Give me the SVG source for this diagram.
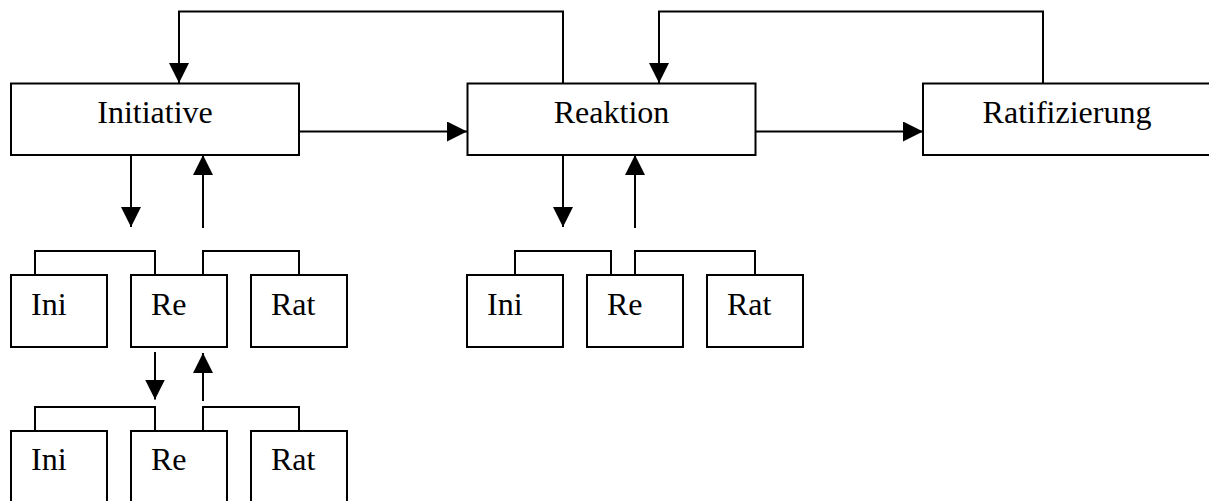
<svg xmlns="http://www.w3.org/2000/svg" width="1209" height="501" viewBox="0 0 1209 501">
<style>
.box{fill:#fff;stroke:#000;stroke-width:2}
.big{font-family:"Liberation Serif","Times New Roman",serif;font-size:32px;fill:#000;text-anchor:middle}
.small{font-family:"Liberation Serif","Times New Roman",serif;font-size:32px;fill:#000}
.ln{fill:none;stroke:#000;stroke-width:2}
.ar{fill:none;stroke:#000;stroke-width:2;marker-end:url(#ah)}
</style>
<defs>
<marker id="ah" markerUnits="userSpaceOnUse" markerWidth="20" markerHeight="20" refX="20" refY="10" orient="auto" viewBox="0 0 20 20">
<path d="M0,0 L20,10 L0,20 Z" fill="#000"/>
</marker>
</defs>
<rect width="1209" height="501" fill="#fff"/>
<g id="connectors">
<path class="ar" d="M563,83 V11.5 H179 V83"/>
<path class="ar" d="M1043,83 V11.5 H659 V83"/>
<path class="ar" d="M299,131.5 H467"/>
<path class="ar" d="M756,131.5 H923"/>
<path class="ar" d="M131,155 V227"/>
<path class="ar" d="M203,228 V155"/>
<path class="ar" d="M563,155 V227"/>
<path class="ar" d="M635,228 V155"/>
<path class="ln" d="M35,275 V251 H155 V275"/>
<path class="ln" d="M203,275 V251 H299 V275"/>
<path class="ar" d="M155,352 V399.5"/>
<path class="ar" d="M203,401 V353"/>
<path class="ln" d="M35,431 V407 H155 V431"/>
<path class="ln" d="M203,431 V407 H299 V431"/>
<path class="ln" d="M515,275 V251 H611 V275"/>
<path class="ln" d="M635,275 V251 H755 V275"/>
</g>
<g id="initiative"><rect class="box" x="11" y="83.5" width="288" height="71.5"/><text class="big" x="155" y="123">Initiative</text></g>
<g id="reaktion"><rect class="box" x="467.5" y="83.5" width="288" height="71.5"/><text class="big" x="611.5" y="123">Reaktion</text></g>
<g id="ratifizierung"><rect class="box" x="923" y="83.5" width="290" height="71.5"/><text class="big" x="1067" y="123">Ratifizierung</text></g>
<g id="l1-ini"><rect class="box" x="11" y="275" width="96" height="72"/><text class="small" x="31" y="315">Ini</text></g>
<g id="l1-re"><rect class="box" x="131" y="275" width="96" height="72"/><text class="small" x="151" y="315">Re</text></g>
<g id="l1-rat"><rect class="box" x="251" y="275" width="96" height="72"/><text class="small" x="271" y="315">Rat</text></g>
<g id="l2-ini"><rect class="box" x="11" y="431" width="96" height="72"/><text class="small" x="31" y="470">Ini</text></g>
<g id="l2-re"><rect class="box" x="131" y="431" width="96" height="72"/><text class="small" x="151" y="470">Re</text></g>
<g id="l2-rat"><rect class="box" x="251" y="431" width="96" height="72"/><text class="small" x="271" y="470">Rat</text></g>
<g id="r1-ini"><rect class="box" x="467" y="275" width="96" height="72"/><text class="small" x="487" y="315">Ini</text></g>
<g id="r1-re"><rect class="box" x="587" y="275" width="96" height="72"/><text class="small" x="607" y="315">Re</text></g>
<g id="r1-rat"><rect class="box" x="707" y="275" width="96" height="72"/><text class="small" x="727" y="315">Rat</text></g>
</svg>
